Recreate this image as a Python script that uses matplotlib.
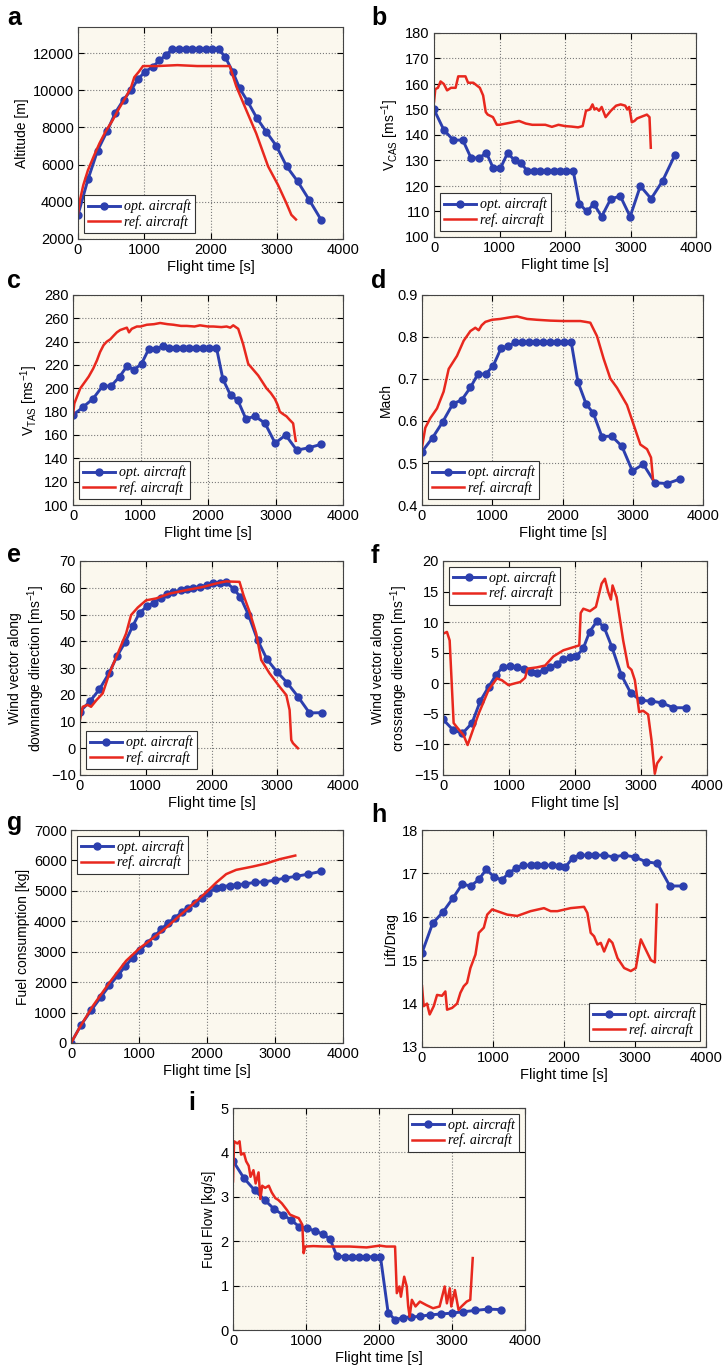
import matplotlib
matplotlib.use('Agg')
import matplotlib.pyplot as plt
from matplotlib.ticker import MultipleLocator

plt.rcParams['font.family'] = 'Liberation Sans'
plt.rcParams['mathtext.fontset'] = 'custom'
plt.rcParams['mathtext.rm'] = 'Liberation Sans'
plt.rcParams['mathtext.default'] = 'regular'

# time nodes of the optimised trajectory (same in every panel)
t_opt = [0, 150, 295, 440, 565, 690, 800, 905, 1015, 1125, 1230, 1330, 1420, 1530, 1625, 1725,
         1825, 1925, 2020, 2125, 2220, 2335, 2440, 2560, 2700, 2845, 2995, 3150, 3315, 3490, 3675]

# a - altitude
alt_opt = [3300, 5200, 6750, 7800, 8800, 9500, 10000, 10600, 11000, 11250, 11600, 11900, 12200, 12200,
           12200, 12200, 12200, 12200, 12200, 12200, 11800, 11000, 10100, 9400, 8500, 7750, 7000, 5900,
           5100, 4100, 3000]
alt_ref_t = [0, 30, 80, 150, 250, 325, 420, 525, 625, 725, 800, 850, 920, 981, 1200, 1500, 1800, 2000,
             2290, 2390, 2540, 2690, 2870, 3020, 3145, 3220, 3290]
alt_ref = [3350, 4100, 4900, 5700, 6550, 7150, 7800, 8400, 9050, 9650, 10150, 10700, 11000, 11300, 11300,
           11350, 11300, 11300, 11300, 10200, 8930, 7680, 5900, 4900, 3930, 3300, 3050]

# b - calibrated airspeed
vcas_opt = [150, 142, 138, 138, 131, 131, 133, 127, 127, 133, 130, 129, 126, 126, 126, 126, 126, 126, 126,
            126, 113, 110, 113, 108, 115, 116, 108, 120, 115, 122, 132]
vcas_ref_t = [0, 20, 60, 100, 150, 200, 260, 330, 370, 400, 480, 520, 600, 650, 700, 750, 790, 820, 900, 960,
              1000, 1100, 1200, 1300, 1400, 1500, 1600, 1700, 1800, 1900, 2000, 2100, 2200, 2270, 2320, 2380,
              2420, 2450, 2480, 2520, 2560, 2620, 2700, 2780, 2850, 2920, 2950, 2980, 3020, 3060, 3100, 3150,
              3200, 3250, 3290, 3310]
vcas_ref = [153, 158, 158.5, 161, 160, 157.5, 158.5, 158.5, 163, 163, 163, 160.5, 160.5, 159.5, 158.5, 155.5,
            149, 148, 147, 144, 144, 144.5, 145, 145.5, 144.5, 144, 144, 144, 143.2, 144, 143.5, 143.3, 143,
            143.5, 149.5, 150, 152, 150, 150.5, 149.5, 151, 147, 149.5, 151.5, 152, 151.5, 150, 151, 145,
            145.5, 146.5, 147, 147.5, 148, 147, 135]

# c - true airspeed
vtas_opt = [177, 184, 191, 202, 202, 210, 219, 216, 221, 234, 234, 236, 235, 235, 235, 235, 235, 235, 235,
            235, 208, 194, 190, 174, 176, 170, 153, 160, 147, 149, 152]
vtas_ref_t = [0, 20, 60, 108, 170, 232, 300, 355, 400, 453, 500, 552, 600, 650, 700, 749, 798, 830, 870, 946,
              1000, 1094, 1200, 1291, 1400, 1488, 1600, 1685, 1800, 1882, 2000, 2079, 2200, 2276, 2330, 2374,
              2448, 2520, 2596, 2670, 2744, 2800, 2867, 2930, 2990, 3030, 3064, 3110, 3163, 3210, 3261, 3286,
              3300]
vtas_ref = [177, 187, 193, 200, 205, 210, 217, 224, 231, 237, 240, 242, 245, 248, 250, 251, 252, 248, 251, 253,
            253, 254.5, 255, 256, 255, 254.5, 253.5, 253.5, 253, 254, 253, 253, 252.5, 253, 252, 254, 251, 238,
            221, 216, 211, 206, 200, 196, 191, 186, 180, 178, 176, 173, 170, 160, 155]

# d - Mach number
mach_opt = [0.527, 0.560, 0.598, 0.641, 0.650, 0.680, 0.713, 0.711, 0.732, 0.773, 0.779, 0.787, 0.787, 0.787,
            0.787, 0.787, 0.787, 0.787, 0.787, 0.787, 0.693, 0.641, 0.618, 0.563, 0.564, 0.540, 0.481, 0.497,
            0.453, 0.451, 0.462]
mach_ref_t = [0, 47, 119, 214, 308, 380, 498, 593, 688, 759, 807, 850, 902, 996, 1115, 1257, 1352, 1495, 1637,
              1827, 2017, 2254, 2330, 2396, 2491, 2586, 2681, 2776, 2918, 3013, 3108, 3203, 3260, 3288]
mach_ref = [0.537, 0.584, 0.607, 0.630, 0.670, 0.724, 0.755, 0.791, 0.814, 0.822, 0.816, 0.828, 0.836, 0.841,
            0.843, 0.847, 0.849, 0.843, 0.841, 0.839, 0.838, 0.838, 0.836, 0.834, 0.802, 0.748, 0.701, 0.679,
            0.638, 0.591, 0.544, 0.533, 0.513, 0.462]

# e - downrange wind
wd_opt = [13.7, 17.5, 22, 28, 34.5, 39.8, 45.6, 50.6, 53, 54.4, 56.2, 57.5, 58.5, 59.1, 59.4, 60, 60.4, 61,
          61.6, 61.9, 62, 59.7, 56.5, 50, 40.5, 33.2, 28.6, 24.5, 19.3, 13.2, 13.3]
wd_ref_t = [0, 41, 117, 168, 250, 345, 447, 574, 701, 777, 878, 1005, 1157, 1360, 1614, 1868, 2071, 2223, 2300,
            2426, 2487, 2579, 2680, 2756, 2883, 3036, 3137, 3188, 3213, 3239, 3315]
wd_ref = [10.6, 15.5, 16.2, 15.5, 18, 20.5, 28, 35.4, 42.9, 49.8, 52.6, 55.3, 56, 57.8, 59.1, 60.3, 61.6, 62.4,
          62.3, 62.2, 57.2, 51, 42.9, 33, 28, 23, 19.9, 14.3, 3.1, 1.9, 0]

# f - crossrange wind
wc_opt = [-5.9, -7.6, -8.2, -6.5, -2.9, -0.6, 1.3, 2.7, 2.8, 2.6, 2.4, 1.9, 1.7, 2.1, 2.6, 3.2, 3.9, 4.3, 4.4,
          5.7, 8.4, 10.2, 9.2, 5.9, 1.4, -1.6, -2.8, -2.9, -3.2, -4.0, -4.0]
wc_ref_t = [0, 60, 101, 161, 212, 312, 373, 539, 690, 816, 892, 992, 1093, 1169, 1244, 1280, 1421, 1547, 1673,
            1824, 1975, 2065, 2086, 2126, 2227, 2317, 2403, 2453, 2504, 2544, 2569, 2630, 2730, 2806, 2856,
            2907, 2972, 3033, 3108, 3159, 3209, 3244, 3310]
wc_ref = [8.1, 8.4, 7, -6.5, -7.2, -8.5, -10.1, -5, -1.1, 0.8, 0.5, -0.3, 0, 0.2, 0.9, 2.4, 2.6, 2.9, 4.4, 5.4,
          5.9, 6.2, 11.5, 12.2, 11.8, 12.5, 16.3, 17.1, 14.9, 13.7, 16.0, 14.1, 7, 2.7, 2.2, 0.5, -4.7, -4.5,
          -5.1, -9.3, -14.8, -13.1, -12.1]

# g - fuel consumption
fuel_opt = [0, 600, 1070, 1510, 1890, 2220, 2530, 2800, 3040, 3300, 3520, 3740, 3935, 4120, 4290, 4450, 4600,
            4760, 4935, 5090, 5140, 5175, 5200, 5230, 5275, 5300, 5350, 5420, 5480, 5550, 5640]
fuel_ref_t = [0, 123, 319, 564, 810, 1006, 1202, 1399, 1595, 1791, 1988, 2135, 2282, 2429, 2675, 2871, 3067, 3298]
fuel_ref = [0, 490, 1210, 1980, 2700, 3110, 3440, 3790, 4180, 4560, 4950, 5270, 5550, 5690, 5800, 5900, 6040, 6160]

# h - lift/drag
ld_opt = [15.17, 15.85, 16.11, 16.44, 16.75, 16.71, 16.86, 17.09, 16.92, 16.85, 17.02, 17.12, 17.19, 17.19,
          17.19, 17.19, 17.19, 17.18, 17.15, 17.36, 17.42, 17.42, 17.42, 17.42, 17.38, 17.42, 17.38, 17.27,
          17.23, 16.71, 16.71]
ld_ref_t = [0, 24, 71, 108, 165, 212, 282, 329, 353, 424, 494, 541, 588, 635, 682, 753, 800, 871, 918, 988,
            1059, 1200, 1341, 1529, 1718, 1812, 1906, 2094, 2282, 2329, 2376, 2424, 2471, 2518, 2565, 2635,
            2682, 2753, 2847, 2941, 3012, 3059, 3082, 3129, 3224, 3280, 3308]
ld_ref = [14.4, 13.94, 14.0, 13.75, 13.94, 14.2, 14.18, 14.28, 13.86, 13.9, 14.0, 14.25, 14.4, 14.48, 14.82,
          15.13, 15.63, 15.75, 16.05, 16.17, 16.13, 16.05, 16.02, 16.13, 16.2, 16.13, 16.13, 16.2, 16.23, 16.09,
          15.63, 15.55, 15.36, 15.4, 15.2, 15.48, 15.4, 15.05, 14.82, 14.75, 14.82, 15.28, 15.48, 15.32, 15.0,
          14.95, 16.28]

# i - fuel flow
ff_opt = [3.81, 3.42, 3.15, 2.92, 2.72, 2.59, 2.47, 2.33, 2.29, 2.23, 2.16, 2.05, 1.67, 1.65, 1.65, 1.65, 1.65,
          1.65, 1.65, 0.39, 0.23, 0.28, 0.29, 0.31, 0.34, 0.36, 0.38, 0.41, 0.44, 0.47, 0.46]
ff_ref_t = [0, 15, 60, 90, 110, 150, 180, 215, 240, 280, 310, 350, 375, 400, 440, 490, 530, 580, 620, 670, 740,
            780, 850, 900, 950, 967, 990, 1100, 1250, 1400, 1600, 1830, 2010, 2100, 2220, 2244, 2280, 2300,
            2345, 2380, 2400, 2420, 2450, 2500, 2560, 2650, 2740, 2830, 2900, 2930, 2970, 2990, 3040, 3090,
            3130, 3200, 3250, 3284]
ff_ref = [3.35, 4.25, 4.2, 4.25, 3.95, 3.98, 3.8, 3.7, 3.45, 3.6, 3.3, 3.55, 2.95, 3.25, 3.2, 3.25, 3.1, 2.97,
          2.93, 2.85, 2.7, 2.6, 2.55, 2.52, 2.37, 1.73, 1.88, 1.89, 1.88, 1.88, 1.88, 1.86, 1.9, 1.88, 1.88,
          0.83, 0.98, 0.75, 1.2, 0.98, 0.53, 0.3, 0.68, 0.53, 0.64, 0.56, 0.49, 0.53, 0.98, 0.6, 0.94, 0.53,
          0.9, 0.45, 0.53, 0.64, 0.68, 1.62]

BLUE = '#2c3fae'
RED = '#e8281e'
BG = '#fbf8ee'
W, H = 727, 1368
fig = plt.figure(figsize=(W / 100, H / 100), dpi=100)


def panel(rect, ref_t, ref_v, opt_v, ylim, ystep, ylabel, loc):
    l, r, t, b = rect
    ax = fig.add_axes([l / W, 1 - b / H, (r - l) / W, (b - t) / H])
    ax.set_facecolor(BG)
    ax.plot(t_opt, opt_v, '-o', color=BLUE, lw=2.1, ms=5, label='opt. aircraft')
    ax.plot(ref_t, ref_v, '-', color=RED, lw=1.8, label='ref. aircraft')
    ax.set_xlim(0, 4000)
    ax.set_ylim(*ylim)
    ax.xaxis.set_major_locator(MultipleLocator(1000))
    ax.yaxis.set_major_locator(MultipleLocator(ystep))
    ax.grid(True, ls=':', color='#7a7a7a', lw=0.8)
    ax.tick_params(direction='in', top=True, right=True, length=4, labelsize=10.5, pad=3)
    for s in ax.spines.values():
        s.set_color('#444444')
        s.set_linewidth(0.8)
    ax.set_xlabel('Flight time [s]', fontsize=10.5, labelpad=2)
    ax.set_ylabel(ylabel, fontsize=10, labelpad=3)
    leg = ax.legend(loc=loc, prop={'family': 'Liberation Serif', 'style': 'italic', 'size': 10},
                    fancybox=False, framealpha=1, edgecolor='#333333', borderpad=0.3,
                    labelspacing=0.15, handlelength=2.3, handletextpad=0.3, borderaxespad=0.4)
    leg.get_frame().set_linewidth(0.8)
    return ax


ms1 = 'ms$^{-1}$'
panel((78, 343, 27, 239), alt_ref_t, alt_ref, alt_opt, (2000, 13400), 2000, 'Altitude [m]', 'lower left')
panel((434, 696, 33, 237), vcas_ref_t, vcas_ref, vcas_opt, (100, 180), 10, 'V$_{CAS}$ [' + ms1 + ']', 'lower left')
panel((73, 343, 295, 505), vtas_ref_t, vtas_ref, vtas_opt, (100, 280), 20, 'V$_{TAS}$ [' + ms1 + ']', 'lower left')
panel((422, 703, 295, 505), mach_ref_t, mach_ref, mach_opt, (0.4, 0.9), 0.1, 'Mach', 'lower left')
panel((80, 343, 561, 775), wd_ref_t, wd_ref, wd_opt, (-10, 70), 10,
      'Wind vector along\ndownrange direction [' + ms1 + ']', 'lower left')
panel((443, 707, 561, 775), wc_ref_t, wc_ref, wc_opt, (-15, 20), 5,
      'Wind vector along\ncrossrange direction [' + ms1 + ']', 'upper left')
panel((71, 343, 830, 1043), fuel_ref_t, fuel_ref, fuel_opt, (0, 7000), 1000, 'Fuel consumption [kg]', 'upper left')
panel((422, 706, 830, 1047), ld_ref_t, ld_ref, ld_opt, (13, 18), 1, 'Lift/Drag', 'lower right')
panel((233, 525, 1108, 1330), ff_ref_t, ff_ref, ff_opt, (0, 5), 1, 'Fuel Flow [kg/s]', 'upper right')

letters = [('a', 7, 25), ('b', 371, 25), ('c', 7, 288), ('d', 371, 288), ('e', 7, 562),
           ('f', 371, 563), ('g', 7, 830), ('h', 371, 822), ('i', 188, 1110)]
for s, x, y in letters:
    fig.text(x / W, 1 - y / H, s, fontsize=18, fontweight='bold', va='baseline', ha='left')

fig.savefig('out.png', dpi=100)
